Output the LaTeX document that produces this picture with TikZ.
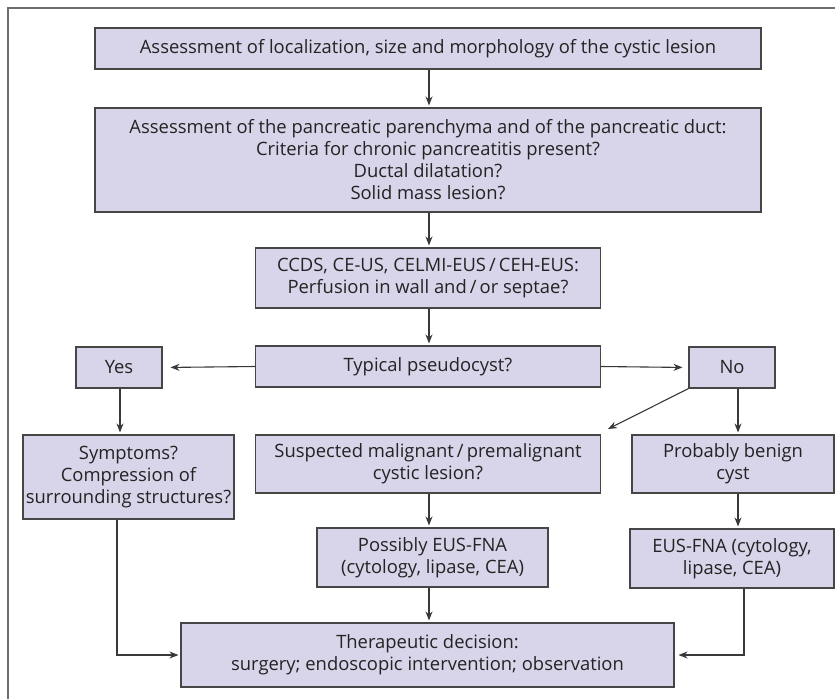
\documentclass[tikz,border=0pt]{standalone}
\usepackage{fontspec}
\setmainfont{Open Sans}
\usetikzlibrary{arrows.meta}
\definecolor{boxfill}{RGB}{216,212,233}
\definecolor{boxline}{RGB}{70,70,70}
\definecolor{txt}{RGB}{35,35,35}
\definecolor{framecol}{RGB}{110,110,110}
\tikzset{
  fbox/.style={draw=boxline, fill=boxfill, line width=1.1pt, align=center, inner sep=0pt,
    text=txt, font=\fontsize{18.4}{22}\selectfont},
  conn/.style={draw=boxline!80!black, line width=1.1pt, -{Stealth[length=9pt,width=7pt]}, shorten >=2pt},
  frameline/.style={draw=framecol, line width=1.6pt}
}
\begin{document}
\begin{tikzpicture}[x=1pt,y=-1pt]
\useasboundingbox (0,0) rectangle (835,699);
\draw[frameline] (8,699) -- (8,8) -- (835,8);
\node[fbox, minimum width=666, minimum height=41] (b1) at (428,48.5)
  {Assessment of localization, size and morphology of the cystic lesion};
\node[fbox, minimum width=666, minimum height=104] (b2) at (428,160)
  {Assessment of the pancreatic parenchyma and of the pancreatic duct:\\
   Criteria for chronic pancreatitis present?\\ Ductal dilatation?\\ Solid mass lesion?};
\node[fbox, minimum width=345, minimum height=60] (b3) at (428,278)
  {CCDS, CE-US, CELMI-EUS\,/\,CEH-EUS:\\ Perfusion in wall and\,/\,or septae?};
\node[fbox, minimum width=345, minimum height=41] (typ) at (428,366.5)
  {Typical pseudocyst?};
\node[fbox, minimum width=86, minimum height=41] (yes) at (119,367.5) {Yes};
\node[fbox, minimum width=86, minimum height=41] (no) at (732,367.5) {No};
\node[fbox, minimum width=211, minimum height=84] (sym) at (128.5,477)
  {Symptoms?\\ Compression of\\ surrounding structures?};
\node[fbox, minimum width=345, minimum height=58] (sus) at (428,464)
  {Suspected malignant\,/\,premalignant\\ cystic lesion?};
\node[fbox, minimum width=202, minimum height=58] (ben) at (733,464)
  {Probably benign\\ cyst};
\node[fbox, minimum width=231, minimum height=59] (pos) at (432.5,557.5)
  {Possibly EUS-FNA\\ (cytology, lipase, CEA)};
\node[fbox, minimum width=204, minimum height=59] (eus) at (732,558.5)
  {EUS-FNA (cytology,\\ lipase, CEA)};
\node[fbox, minimum width=493, minimum height=64] (ther) at (427.5,655)
  {Therapeutic decision:\\ surgery; endoscopic intervention; observation};
\coordinate (sustip) at (608,429);
\draw[conn] (b1.south -| 429,0) -- (b2.north -| 429,0);
\draw[conn] (b2.south -| 429,0) -- (b3.north -| 429,0);
\draw[conn] (b3.south -| 429,0) -- (typ.north -| 429,0);
\draw[conn, shorten >=8pt] (typ.west) -- (yes.east);
\draw[conn, shorten >=6pt] (typ.east) -- (no.west);
\draw[conn] (yes.south -| 120,0) -- (sym.north -| 120,0);
\draw[conn, shorten >=0pt] (no.south west) -- (sustip);
\draw[conn] (no.south -| 738,0) -- (ben.north -| 738,0);
\draw[conn] (sus.south -| 429,0) -- (pos.north -| 429,0);
\draw[conn] (ben.south -| 738,0) -- (eus.north -| 738,0);
\draw[conn] (pos.south -| 429,0) -- (ther.north -| 429,0);
\draw[conn] (sym.south -| 117,0) |- (ther.west);
\draw[conn, shorten >=4pt] (eus.south -| 744,0) |- (ther.east);
\end{tikzpicture}
\end{document}
